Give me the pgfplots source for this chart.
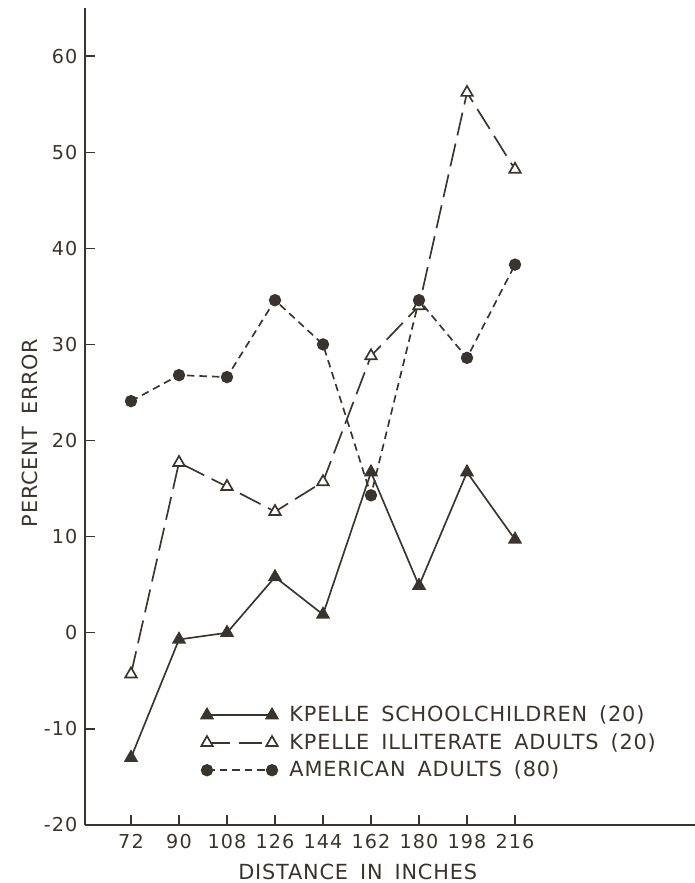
\documentclass[border=0pt]{standalone}
\usepackage{fontspec}
\setmainfont{DejaVu Sans}[LetterSpace=4, WordSpace=1.6]
\newfontfamily\tickfont{DejaVu Sans}[LetterSpace=6]
\usepackage{pgfplots}
\pgfplotsset{compat=1.18}
\definecolor{ink}{RGB}{58,52,46}
\pgfplotsset{my legend/.style={legend image code/.code={\draw[mark repeat=1,##1] plot coordinates {(0pt,0pt) (39pt,0pt)};}}}
\begin{document}
\begin{tikzpicture}
\begin{axis}[
  name=ax,
  scale only axis,
  width=366pt, height=490.2pt,
  xmin=54.75, xmax=283.5,
  ymin=-20, ymax=65,
  axis x line=bottom, axis y line=left,
  axis line style={-, ink, line width=0.8pt},
  tick style={ink, line width=0.8pt},
  tick align=inside,
  major tick length=6pt,
  xtick={72,90,108,126,144,162,180,198,216},
  xticklabels={72,90,108,126,144,162,180,198,216},
  ytick={-20,-10,0,10,20,30,40,50,60},
  yticklabels={-20,-10,0,10,20,30,40,50,60},
  ticklabel style={font=\tickfont\fontsize{11.5}{13}\selectfont, text=ink},
  xticklabel style={yshift=-2pt},
  yticklabel style={xshift=-1pt},
  xlabel={DISTANCE IN INCHES},
  ylabel={PERCENT ERROR},
  label style={font=\fontsize{12.5}{14}\selectfont, text=ink},
  xlabel style={at={(axis cs:157,-20)}, anchor=center, yshift=-28.2pt},
  ylabel style={at={(axis description cs:-0.09,0.48)}, anchor=center},
  clip=false,
  legend cell align=left,
  legend style={at={(rel axis cs:0.19,0.15)}, anchor=north west, draw=none, fill=none,
    font=\fontsize{12.5}{14}\selectfont, text=ink, row sep=1.5pt, column sep=5pt, inner sep=0pt},
  every axis plot/.append style={ink, line width=1pt},
]
\addplot[solid, mark=triangle*, mark size=4pt, mark options={solid, fill=ink}, my legend]
coordinates {(72,-13.0) (90,-0.7) (108,0) (126,5.8) (144,1.9) (162,16.7) (180,4.9) (198,16.7) (216,9.7)};
\addlegendentry{KPELLE SCHOOLCHILDREN (20)}
\addplot[dash pattern=on 14pt off 5pt, mark=triangle*, mark size=4pt, mark options={solid, fill=white}, my legend]
coordinates {(72,-4.3) (90,17.7) (108,15.2) (126,12.6) (144,15.7) (162,28.8) (180,34.0) (198,56.2) (216,48.2)};
\addlegendentry{KPELLE ILLITERATE ADULTS (20)}
\addplot[dash pattern=on 4.5pt off 3pt, mark=*, mark size=3.2pt, mark options={solid, fill=ink}, my legend]
coordinates {(72,24.1) (90,26.8) (108,26.6) (126,34.6) (144,30.0) (162,14.3) (180,34.6) (198,28.6) (216,38.3)};
\addlegendentry{AMERICAN ADULTS (80)}
\end{axis}
\pgfresetboundingbox
\path[use as bounding box] ([xshift=-51pt,yshift=-34.8pt]ax.south west) rectangle ([yshift=4.8pt]ax.north east);
\end{tikzpicture}
\end{document}
